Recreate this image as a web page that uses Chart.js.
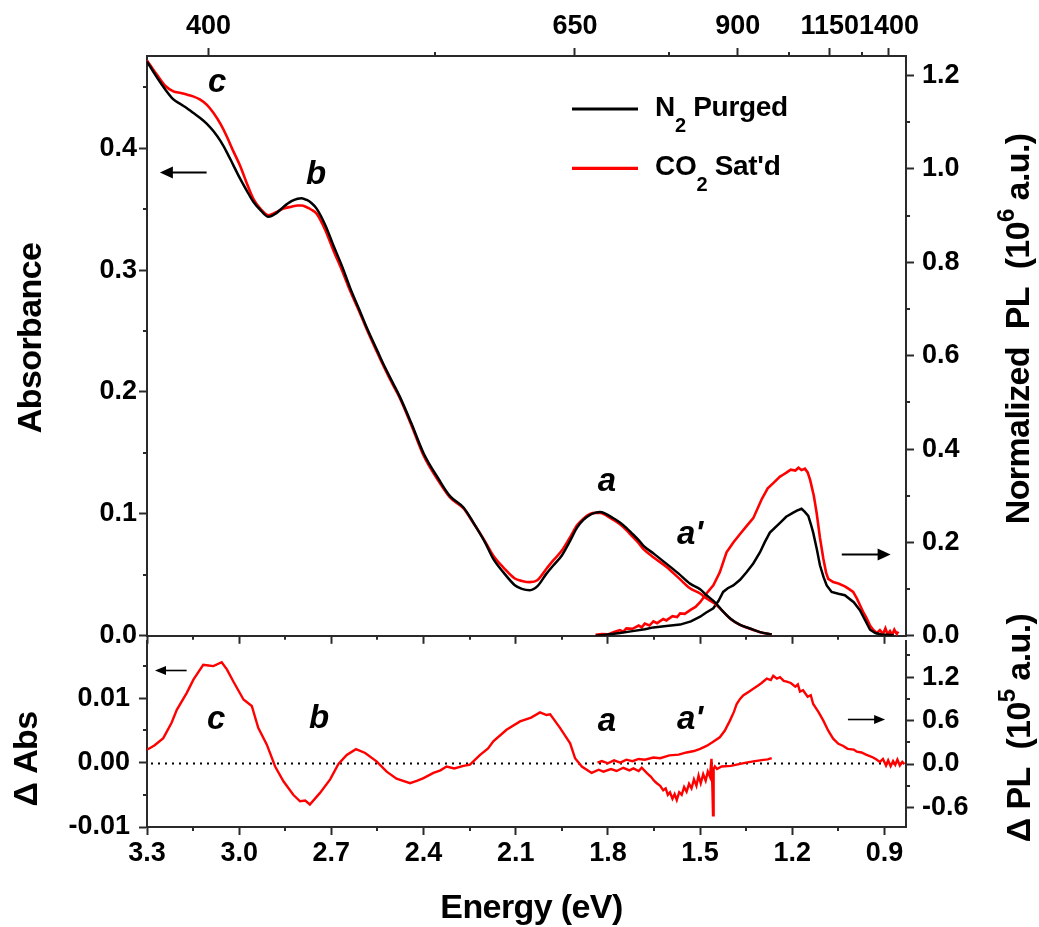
<!DOCTYPE html>
<html>
<head>
<meta charset="utf-8">
<title>Absorbance and PL spectra</title>
<script src="https://cdn.jsdelivr.net/npm/chart.js@4.4.1/dist/chart.umd.min.js"></script>
<style>
  html, body { margin: 0; padding: 0; background: #fff; }
  #wrap { position: relative; width: 1039px; height: 927px; overflow: hidden; }
  #wrap canvas { position: absolute; left: 0; }
  #topPanel { top: 0; }
  #bottomPanel { top: 600px; }
</style>
</head>
<body>
<div id="wrap">
  <canvas id="topPanel" width="1039" height="660"></canvas>
  <canvas id="bottomPanel" width="1039" height="327"></canvas>
</div>
<script>
// ---------- axis ranges and tick values ----------
const energyMin = 0.83, energyMax = 3.3;
const energyTicks = [3.3, 3.0, 2.7, 2.4, 2.1, 1.8, 1.5, 1.2, 0.9];
const energyMinor = [3.15, 2.85, 2.55, 2.25, 1.95, 1.65, 1.35, 1.05];
const wavelengthTicks = [400, 650, 900, 1150, 1400];
const wavelengthMinor = [525, 775, 1025, 1275];
const absTicks = [0, 0.1, 0.2, 0.3, 0.4];
const absMinor = [0.05, 0.15, 0.25, 0.35, 0.45];
const plTicks = [0, 0.2, 0.4, 0.6, 0.8, 1.0, 1.2];
const plMinor = [0.1, 0.3, 0.5, 0.7, 0.9, 1.1];
const dAbsTicks = [-0.01, 0, 0.01];
const dAbsMinor = [-0.005, 0.005, 0.015];
const dPlTicks = [-0.6, 0, 0.6, 1.2];
const dPlMinor = [-0.3, 0.3, 0.9, 1.5];
const seriesLabels = ['N₂ Purged', "CO₂ Sat'd"];

// ---------- absorbance (left axis, top panel) ----------
const absEnergy = [3.30, 3.27, 3.24, 3.214, 3.19, 3.171, 3.15, 3.128, 3.105, 3.084, 3.06, 3.041, 3.02, 2.997, 2.975, 2.954, 2.93, 2.905, 2.88, 2.856, 2.83, 2.81, 2.797, 2.78, 2.765, 2.748, 2.72, 2.694, 2.665, 2.639, 2.61, 2.585, 2.55, 2.53, 2.50, 2.477, 2.44, 2.40, 2.35, 2.314, 2.27, 2.238, 2.20, 2.173, 2.14, 2.103, 2.08, 2.054, 2.03, 2.00, 1.978, 1.95, 1.925, 1.90, 1.88, 1.86, 1.84, 1.826, 1.81, 1.79, 1.761, 1.74, 1.72, 1.70, 1.685, 1.65, 1.609, 1.57, 1.533, 1.50, 1.479, 1.45, 1.425, 1.40, 1.37, 1.34, 1.305, 1.267];
const absN2 = [0.471, 0.459, 0.448, 0.440, 0.436, 0.433, 0.429, 0.425, 0.420, 0.414, 0.4055, 0.397, 0.3865, 0.375, 0.365, 0.356, 0.349, 0.3437, 0.3465, 0.3518, 0.3565, 0.3585, 0.359, 0.3575, 0.355, 0.3504, 0.337, 0.3206, 0.303, 0.2854, 0.268, 0.2528, 0.2335, 0.2225, 0.2075, 0.196, 0.1745, 0.1498, 0.1282, 0.1146, 0.1052, 0.0929, 0.0767, 0.0631, 0.052, 0.0415, 0.0385, 0.0374, 0.0405, 0.051, 0.0577, 0.0659, 0.077, 0.0889, 0.095, 0.0989, 0.101, 0.1016, 0.1005, 0.0976, 0.093, 0.0885, 0.0835, 0.0785, 0.074, 0.0672, 0.059, 0.051, 0.0428, 0.0382, 0.0333, 0.0271, 0.0198, 0.0138, 0.0089, 0.0062, 0.003, 0.001];
const absCO2 = [0.472, 0.461, 0.451, 0.4466, 0.4452, 0.444, 0.4425, 0.440, 0.4355, 0.429, 0.4195, 0.410, 0.398, 0.3856, 0.371, 0.3585, 0.350, 0.345, 0.3475, 0.3504, 0.352, 0.353, 0.353, 0.3515, 0.3495, 0.3463, 0.333, 0.3165, 0.2995, 0.283, 0.2665, 0.2515, 0.232, 0.2212, 0.206, 0.195, 0.173, 0.148, 0.1265, 0.1135, 0.1045, 0.0925, 0.0775, 0.0657, 0.056, 0.047, 0.045, 0.044, 0.0455, 0.055, 0.0618, 0.0699, 0.080, 0.0908, 0.096, 0.0997, 0.1008, 0.1008, 0.0995, 0.0963, 0.0916, 0.0868, 0.0813, 0.076, 0.0713, 0.064, 0.0564, 0.0475, 0.039, 0.0347, 0.0306, 0.026, 0.0198, 0.0135, 0.009, 0.006, 0.003, 0.001];

// ---------- photoluminescence (right axis, top panel, 10^6 a.u.) ----------
const plEnergyN2 = [1.84, 1.80, 1.761, 1.72, 1.68, 1.652, 1.61, 1.565, 1.53, 1.50, 1.48, 1.457, 1.44, 1.425, 1.41, 1.392, 1.37, 1.349, 1.327, 1.305, 1.29, 1.273, 1.24, 1.22, 1.197, 1.185, 1.17, 1.16, 1.148, 1.14, 1.132, 1.12, 1.11, 1.098, 1.088, 1.072, 1.05, 1.029, 1.0, 0.98, 0.96, 0.947, 0.93, 0.91, 0.89, 0.87];
const plN2 = [0.000, 0.003, 0.006, 0.010, 0.014, 0.018, 0.021, 0.024, 0.031, 0.041, 0.050, 0.059, 0.075, 0.094, 0.102, 0.108, 0.120, 0.136, 0.155, 0.179, 0.200, 0.221, 0.242, 0.255, 0.264, 0.268, 0.272, 0.266, 0.257, 0.240, 0.221, 0.185, 0.151, 0.125, 0.108, 0.094, 0.090, 0.087, 0.072, 0.055, 0.030, 0.013, 0.006, 0.003, 0.002, 0.001];
const plEnergyCO2 = [1.84, 1.82, 1.80, 1.78, 1.761, 1.75, 1.74, 1.72, 1.70, 1.69, 1.68, 1.665, 1.652, 1.64, 1.62, 1.61, 1.59, 1.575, 1.565, 1.55, 1.53, 1.515, 1.50, 1.48, 1.457, 1.436, 1.414, 1.392, 1.37, 1.349, 1.327, 1.30, 1.28, 1.262, 1.24, 1.23, 1.218, 1.205, 1.19, 1.18, 1.17, 1.159, 1.15, 1.142, 1.13, 1.121, 1.11, 1.099, 1.09, 1.083, 1.067, 1.05, 1.029, 1.015, 1.002, 0.99, 0.98, 0.97, 0.958, 0.947, 0.937, 0.925, 0.915, 0.905, 0.897, 0.89, 0.882, 0.875, 0.868, 0.86, 0.855];
const plCO2 = [0.002, 0.004, 0.003, 0.008, 0.012, 0.009, 0.016, 0.015, 0.022, 0.018, 0.026, 0.022, 0.031, 0.027, 0.036, 0.033, 0.042, 0.040, 0.048, 0.047, 0.056, 0.062, 0.072, 0.090, 0.108, 0.136, 0.179, 0.200, 0.218, 0.235, 0.252, 0.292, 0.316, 0.327, 0.341, 0.345, 0.350, 0.356, 0.354, 0.360, 0.355, 0.358, 0.350, 0.334, 0.300, 0.264, 0.210, 0.165, 0.135, 0.122, 0.115, 0.112, 0.106, 0.100, 0.094, 0.080, 0.066, 0.052, 0.0375, 0.022, 0.013, 0.006, 0.012, 0.004, 0.016, 0.003, 0.010, 0.002, 0.013, 0.004, 0.009];

// ---------- difference spectra (bottom panel) ----------
const dAbsEnergy = [3.30, 3.275, 3.247, 3.22, 3.203, 3.171, 3.149, 3.117, 3.10, 3.084, 3.057, 3.04, 3.019, 2.986, 2.959, 2.938, 2.91, 2.883, 2.856, 2.824, 2.802, 2.785, 2.77, 2.737, 2.704, 2.677, 2.65, 2.62, 2.59, 2.553, 2.52, 2.488, 2.444, 2.42, 2.40, 2.368, 2.345, 2.325, 2.30, 2.27, 2.249, 2.216, 2.19, 2.173, 2.13, 2.086, 2.05, 2.021, 2.0, 1.988, 1.956, 1.923, 1.907, 1.885, 1.853, 1.83, 1.815, 1.79, 1.772, 1.75, 1.73, 1.717, 1.70, 1.69, 1.674, 1.66, 1.65, 1.641, 1.63, 1.62, 1.612, 1.605, 1.598, 1.59, 1.583, 1.576, 1.568, 1.56, 1.552, 1.544, 1.536, 1.528, 1.52, 1.512, 1.505, 1.498, 1.49, 1.482, 1.475, 1.468, 1.463, 1.460, 1.458, 1.456, 1.452, 1.445, 1.43, 1.40, 1.381, 1.35, 1.327, 1.30, 1.28, 1.267];
const dAbs = [0.0020, 0.0027, 0.0038, 0.0062, 0.0082, 0.0108, 0.0129, 0.0152, 0.0151, 0.0150, 0.0156, 0.0145, 0.0126, 0.0098, 0.0088, 0.0054, 0.0028, -0.0006, -0.0029, -0.0050, -0.0060, -0.0059, -0.0065, -0.0047, -0.0026, -0.0002, 0.0012, 0.0021, 0.0015, 0.0002, -0.0014, -0.0025, -0.0032, -0.0028, -0.0024, -0.0016, -0.0012, -0.0006, -0.0009, -0.0005, -0.0003, 0.0012, 0.0022, 0.0033, 0.0051, 0.0064, 0.0070, 0.0078, 0.0074, 0.0075, 0.0054, 0.0030, 0.0007, -0.0006, -0.0016, -0.0011, -0.0014, -0.0010, -0.0013, -0.0008, -0.0012, -0.0009, -0.0013, -0.0008, -0.0016, -0.0022, -0.0028, -0.0032, -0.0036, -0.0043, -0.0040, -0.0050, -0.0046, -0.0056, -0.0049, -0.0058, -0.0046, -0.0050, -0.0038, -0.0045, -0.0033, -0.0040, -0.0026, -0.0036, -0.0020, -0.0032, -0.0018, -0.0028, -0.0014, -0.0022, 0.0006, -0.0040, -0.0082, -0.0010, -0.0006, -0.0010, -0.0006, -0.0005, -0.0003, 0.0000, 0.0002, 0.0004, 0.0005, 0.0007];
const dPlEnergy = [1.834, 1.82, 1.80, 1.78, 1.76, 1.74, 1.72, 1.70, 1.68, 1.652, 1.63, 1.60, 1.57, 1.544, 1.52, 1.50, 1.479, 1.46, 1.436, 1.42, 1.403, 1.39, 1.381, 1.37, 1.359, 1.345, 1.327, 1.31, 1.30, 1.283, 1.27, 1.262, 1.25, 1.24, 1.228, 1.218, 1.205, 1.19, 1.182, 1.175, 1.165, 1.15, 1.14, 1.132, 1.115, 1.099, 1.083, 1.067, 1.05, 1.034, 1.02, 1.0, 0.99, 0.975, 0.96, 0.948, 0.937, 0.925, 0.915, 0.905, 0.895, 0.888, 0.88, 0.872, 0.865, 0.858, 0.85, 0.842, 0.835];
const dPl = [0.02, 0.04, 0.01, 0.05, 0.02, 0.06, 0.04, 0.07, 0.06, 0.09, 0.08, 0.12, 0.13, 0.16, 0.18, 0.21, 0.25, 0.30, 0.37, 0.46, 0.60, 0.72, 0.83, 0.90, 0.95, 0.99, 1.04, 1.09, 1.12, 1.18, 1.16, 1.22, 1.18, 1.20, 1.15, 1.14, 1.12, 1.07, 1.10, 1.00, 1.02, 0.93, 0.95, 0.83, 0.72, 0.60, 0.46, 0.35, 0.28, 0.25, 0.21, 0.20, 0.17, 0.16, 0.13, 0.11, 0.09, 0.06, 0.03, 0.07, -0.02, 0.05, -0.03, 0.04, -0.01, 0.06, -0.02, 0.03, 0.00];

// ---------- shared styling ----------
const FONT = "'Liberation Sans', Arial, Helvetica, sans-serif";
const AXIS = '#2a2a2a';
const BLACK = '#000000';
const RED = '#ff0000';
const nmToEv = nm => 1239.84 / nm;
const points = (xs, ys) => xs.map((x, i) => ({ x, y: ys[i] }));

function fixedTicks(values) {
  return scale => { scale.ticks = values.map(v => ({ value: v })); };
}

function axis(opts) {
  return {
    type: 'linear',
    position: opts.position,
    min: opts.min,
    max: opts.max,
    reverse: !!opts.reverse,
    afterBuildTicks: fixedTicks(opts.ticks),
    afterFit: scale => {
      if (scale.isHorizontal()) scale.height = opts.size; else scale.width = opts.size;
    },
    grid: { drawOnChartArea: false, drawTicks: true, tickLength: 8, tickWidth: 2, tickColor: AXIS },
    border: { display: true, color: AXIS, width: 2 },
    ticks: {
      display: opts.labels !== false,
      autoSkip: false, maxRotation: 0, minRotation: 0,
      padding: opts.padding ?? 4,
      color: '#000',
      font: { family: FONT, size: 27, weight: 'bold' },
      callback: opts.format
    }
  };
}

// Text with sub/superscript pieces: segs = [{t, sub?, sup?}]
function drawRich(ctx, segs, x, y, f) {
  ctx.save();
  ctx.translate(x, y);
  if (f.rot) ctx.rotate(f.rot);
  ctx.textBaseline = 'alphabetic';
  ctx.textAlign = 'left';
  ctx.fillStyle = '#000';
  if ('letterSpacing' in ctx) ctx.letterSpacing = f.spacing || '0px';
  const fontFor = s => `${f.style || 'bold'} ${(s.sub || s.sup) ? f.small : f.size}px ${FONT}`;
  let total = 0;
  const widths = segs.map(s => {
    ctx.font = fontFor(s);
    const w = ctx.measureText(s.t).width;
    total += w;
    return w;
  });
  let cx = f.align === 'center' ? -total / 2 : 0;
  segs.forEach((s, i) => {
    ctx.font = fontFor(s);
    const dy = s.sub ? f.subDy : (s.sup ? -f.supDy : 0);
    ctx.fillText(s.t, cx, dy);
    cx += widths[i];
  });
  ctx.restore();
}

const scriptChars = { '₂': ['2', 'sub'], '⁵': ['5', 'sup'], '⁶': ['6', 'sup'] };
function parseRich(str) {
  return str.split(/([₂⁵⁶])/).filter(Boolean).map(t => {
    const m = scriptChars[t];
    return m ? { t: m[0], [m[1]]: true } : { t };
  });
}

function drawArrow(ctx, x1, x2, y, head, half, width) {
  const dir = Math.sign(x2 - x1);
  ctx.save();
  ctx.strokeStyle = '#000';
  ctx.fillStyle = '#000';
  ctx.lineWidth = width;
  ctx.beginPath();
  ctx.moveTo(x1, y);
  ctx.lineTo(x2 - dir * head * 0.6, y);
  ctx.stroke();
  ctx.beginPath();
  ctx.moveTo(x2, y);
  ctx.lineTo(x2 - dir * head, y - half);
  ctx.lineTo(x2 - dir * head, y + half);
  ctx.closePath();
  ctx.fill();
  ctx.restore();
}

// Minor tick marks, zero reference line, peak letters, arrows, titles, legend
const decorations = {
  id: 'decorations',
  beforeDatasetsDraw(chart, args, o) {
    if (!o.zeroAxis) return;
    const ctx = chart.ctx, ca = chart.chartArea;
    const y = Math.round(chart.scales[o.zeroAxis].getPixelForValue(0)) + 0.5;
    ctx.save();
    ctx.setLineDash([2, 5]);
    ctx.lineWidth = 2;
    ctx.strokeStyle = '#000';
    ctx.beginPath();
    ctx.moveTo(ca.left + 4, y);
    ctx.lineTo(ca.right, y);
    ctx.stroke();
    ctx.restore();
  },
  afterDraw(chart, args, o) {
    const ctx = chart.ctx, ca = chart.chartArea, xs = chart.scales.x;
    ctx.save();
    ctx.strokeStyle = AXIS;
    ctx.lineWidth = 2;
    (o.minor || []).forEach(m => {
      const s = chart.scales[m.axis];
      m.values.forEach(v => {
        const p = Math.round(s.getPixelForValue(v));
        ctx.beginPath();
        if (s.isHorizontal()) {
          const y0 = s.position === 'top' ? ca.top : ca.bottom;
          const d = s.position === 'top' ? -1 : 1;
          ctx.moveTo(p, y0); ctx.lineTo(p, y0 + d * 4);
        } else {
          const x0 = s.position === 'left' ? ca.left : ca.right;
          const d = s.position === 'left' ? -1 : 1;
          ctx.moveTo(x0, p); ctx.lineTo(x0 + d * 4, p);
        }
        ctx.stroke();
      });
    });
    ctx.restore();

    (o.letters || []).forEach(l => {
      const ys = chart.scales[l.axis];
      ctx.save();
      ctx.font = `italic bold 33px ${FONT}`;
      ctx.fillStyle = '#000';
      ctx.textAlign = 'center';
      ctx.textBaseline = 'middle';
      ctx.fillText(l.text, xs.getPixelForValue(l.x), ys.getPixelForValue(l.y));
      ctx.restore();
    });

    (o.arrows || []).forEach(a => {
      const ys = chart.scales[a.axis];
      drawArrow(ctx, xs.getPixelForValue(a.from), xs.getPixelForValue(a.to),
        Math.round(ys.getPixelForValue(a.y)) + 0.5, a.head, a.half, a.width);
    });

    (o.titles || []).forEach(t => {
      const x = t.anchorX === 'left' ? ca.left + t.dx : t.anchorX === 'right' ? ca.right + t.dx : (ca.left + ca.right) / 2 + t.dx;
      const y = t.anchorY === 'bottom' ? ca.bottom + t.dy : (ca.top + ca.bottom) / 2 + t.dy;
      drawRich(ctx, parseRich(t.text), x, y, {
        size: 34, small: 24, supDy: 15, subDy: 10, rot: t.rot || 0,
        align: 'center', spacing: '-0.6px'
      });
    });

    if (o.legend) {
      const L = o.legend;
      chart.data.datasets.slice(0, 2).forEach((ds, i) => {
        const y = ca.top + L.top + i * L.step;
        ctx.save();
        ctx.strokeStyle = ds.borderColor;
        ctx.lineWidth = 3.2;
        ctx.beginPath();
        ctx.moveTo(ca.left + L.lineStart, y);
        ctx.lineTo(ca.left + L.lineEnd, y);
        ctx.stroke();
        ctx.restore();
        drawRich(ctx, parseRich(ds.label), ca.left + L.textStart, y + 7, {
          size: 28, small: 20, subDy: 16, supDy: 10, align: 'left', spacing: '-0.3px'
        });
      });
    }
  }
};

const lineStyle = (color, width, smooth) => ({
  borderColor: color,
  backgroundColor: color,
  borderWidth: width,
  pointRadius: 0,
  fill: false,
  tension: 0,
  cubicInterpolationMode: smooth ? 'monotone' : 'default'
});

// ---------- top panel: absorbance + normalized PL ----------
new Chart(document.getElementById('topPanel'), {
  type: 'line',
  data: {
    datasets: [
      { label: seriesLabels[0], data: points(absEnergy, absN2), yAxisID: 'yAbs', ...lineStyle(BLACK, 2.5, true) },
      { label: seriesLabels[1], data: points(absEnergy, absCO2), yAxisID: 'yAbs', ...lineStyle(RED, 2.6, true) },
      { label: seriesLabels[0] + ' PL', data: points(plEnergyN2, plN2), yAxisID: 'yPL', ...lineStyle(BLACK, 2.5, false) },
      { label: seriesLabels[1] + ' PL', data: points(plEnergyCO2, plCO2), yAxisID: 'yPL', ...lineStyle(RED, 2.6, false) }
    ]
  },
  options: {
    responsive: false,
    animation: false,
    devicePixelRatio: 1,
    layout: { padding: 0 },
    plugins: {
      legend: { display: false },
      tooltip: { enabled: false },
      decorations: {
        minor: [
          { axis: 'x', values: energyMinor },
          { axis: 'xTop', values: wavelengthMinor.map(nmToEv) },
          { axis: 'yAbs', values: absMinor },
          { axis: 'yPL', values: plMinor }
        ],
        letters: [
          { text: 'c', x: 3.072, y: 0.4537, axis: 'yAbs' },
          { text: 'b', x: 2.75, y: 0.378, axis: 'yAbs' },
          { text: 'a', x: 1.803, y: 0.126, axis: 'yAbs' },
          { text: "a'", x: 1.533, y: 0.0829, axis: 'yAbs' }
        ],
        arrows: [
          { from: 3.106, to: 3.258, y: 0.3802, axis: 'yAbs', head: 13, half: 6, width: 2 },
          { from: 1.039, to: 0.88, y: 0.1746, axis: 'yPL', head: 13, half: 6, width: 2 }
        ],
        titles: [
          { text: 'Absorbance', anchorX: 'left', dx: -106, dy: -8, rot: -Math.PI / 2 },
          { text: 'Normalized  PL  (10⁶ a.u.)', anchorX: 'right', dx: 123, dy: -17, rot: -Math.PI / 2 }
        ],
        legend: { top: 53, step: 59.3, lineStart: 425, lineEnd: 491, textStart: 508 }
      }
    },
    scales: {
      x: axis({ position: 'bottom', min: energyMin, max: energyMax, reverse: true, ticks: energyTicks, size: 19, labels: false }),
      xTop: axis({ position: 'top', min: energyMin, max: energyMax, reverse: true, ticks: wavelengthTicks.map(nmToEv), size: 56, padding: 5,
        format: (v, i) => String(wavelengthTicks[i]) }),
      yAbs: axis({ position: 'left', min: 0, max: 0.4756, ticks: absTicks, size: 147, padding: 2, format: v => v.toFixed(1) }),
      yPL: axis({ position: 'right', min: 0, max: 1.242, ticks: plTicks, size: 133, padding: 8, format: v => v.toFixed(1) })
    }
  },
  plugins: [decorations]
});

// ---------- bottom panel: difference spectra ----------
new Chart(document.getElementById('bottomPanel'), {
  type: 'line',
  data: {
    datasets: [
      { label: 'ΔAbs', data: points(dAbsEnergy, dAbs), yAxisID: 'yD', ...lineStyle(RED, 2.4, false) },
      { label: 'ΔPL', data: points(dPlEnergy, dPl), yAxisID: 'yDPL', ...lineStyle(RED, 2.4, false) }
    ]
  },
  options: {
    responsive: false,
    animation: false,
    devicePixelRatio: 1,
    layout: { padding: { top: 41 } },
    plugins: {
      legend: { display: false },
      tooltip: { enabled: false },
      decorations: {
        zeroAxis: 'yD',
        minor: [
          { axis: 'x', values: energyMinor },
          { axis: 'yD', values: dAbsMinor },
          { axis: 'yDPL', values: dPlMinor }
        ],
        letters: [
          { text: 'c', x: 3.075, y: 0.0067, axis: 'yD' },
          { text: 'b', x: 2.74, y: 0.0068, axis: 'yD' },
          { text: 'a', x: 1.803, y: 0.0064, axis: 'yD' },
          { text: "a'", x: 1.533, y: 0.0067, axis: 'yD' }
        ],
        arrows: [
          { from: 3.171, to: 3.274, y: 0.01435, axis: 'yD', head: 11, half: 4.5, width: 1.6 },
          { from: 1.019, to: 0.898, y: 0.623, axis: 'yDPL', head: 11, half: 4.5, width: 1.6 }
        ],
        titles: [
          { text: 'Δ Abs', anchorX: 'left', dx: -110, dy: 25, rot: -Math.PI / 2 },
          { text: 'Δ PL  (10⁵ a.u.)', anchorX: 'right', dx: 124, dy: -6, rot: -Math.PI / 2 },
          { text: 'Energy (eV)', anchorX: 'center', anchorY: 'bottom', dx: 5, dy: 91 }
        ]
      }
    },
    scales: {
      x: axis({ position: 'bottom', min: energyMin, max: energyMax, reverse: true, ticks: energyTicks, size: 100, padding: 2, format: v => v.toFixed(1) }),
      yD: axis({ position: 'left', min: -0.01, max: 0.0189, ticks: dAbsTicks, size: 147, padding: 9, format: v => v.toFixed(2) }),
      yDPL: axis({ position: 'right', min: -0.87, max: 1.70, ticks: dPlTicks, size: 133, padding: 8, format: v => v.toFixed(1) })
    }
  },
  plugins: [decorations]
});
</script>
</body>
</html>
